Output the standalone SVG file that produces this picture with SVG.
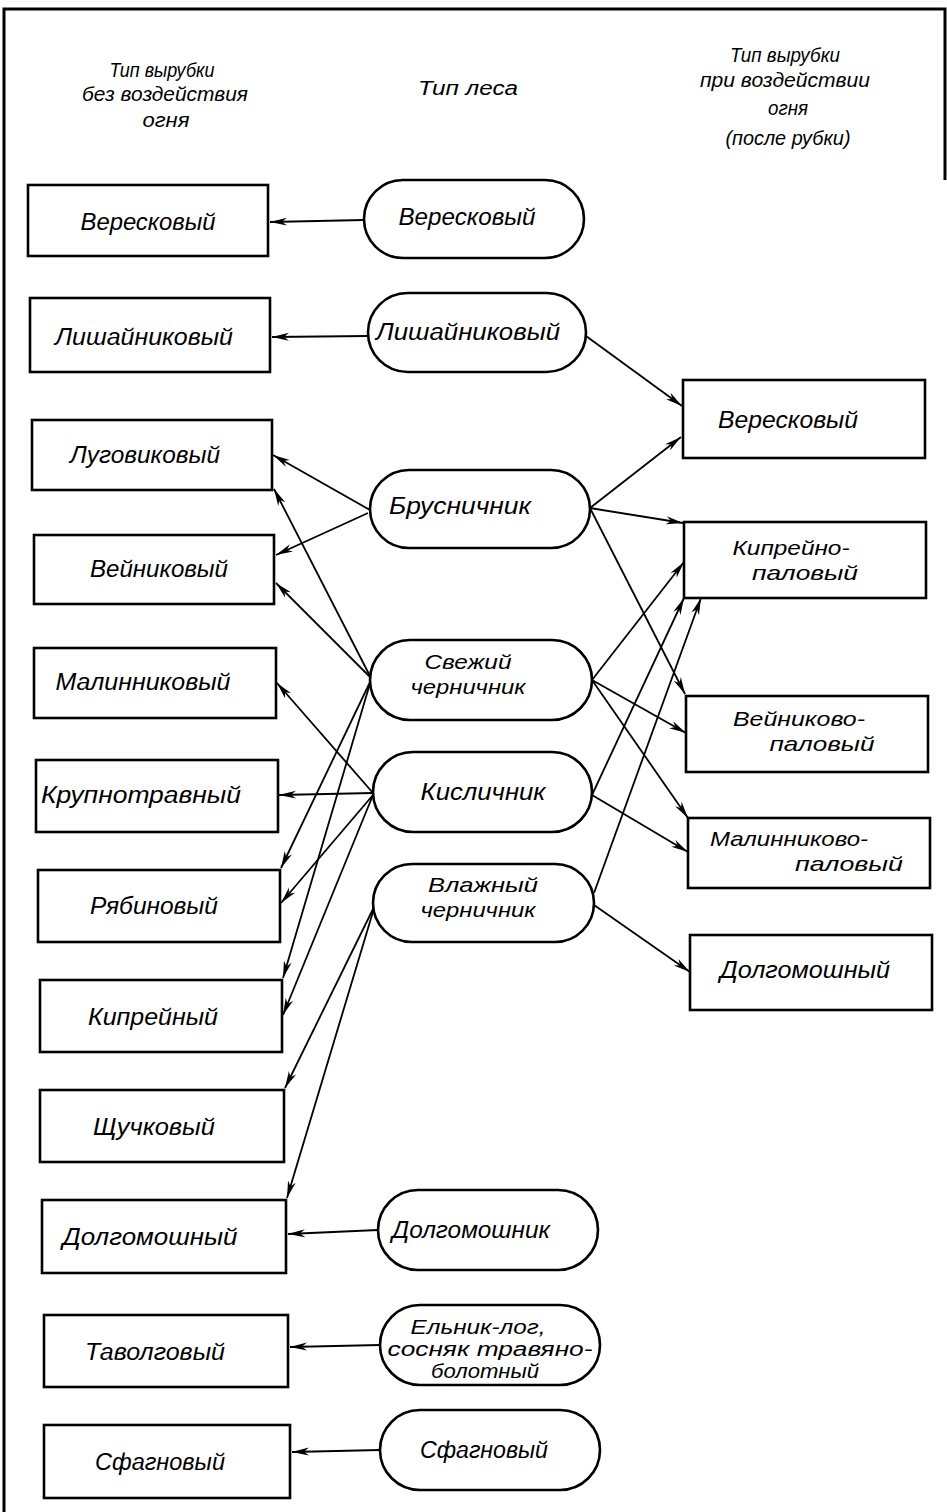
<svg xmlns="http://www.w3.org/2000/svg" width="947" height="1512" viewBox="0 0 947 1512">
<style>
.box{fill:#fff;stroke:#000;stroke-width:2.6}
.t{font-family:"Liberation Sans","DejaVu Sans",sans-serif;font-style:italic;font-size:23px;text-anchor:middle;fill:#000}
.s{font-family:"Liberation Sans","DejaVu Sans",sans-serif;font-style:italic;font-size:21px;text-anchor:middle;fill:#000}
.h{font-family:"Liberation Sans","DejaVu Sans",sans-serif;font-style:italic;font-size:20px;text-anchor:middle;fill:#000}
.c line{stroke:#000;stroke-width:1.8;marker-end:url(#a)}
</style>
<defs>
<marker id="a" markerUnits="userSpaceOnUse" markerWidth="18" markerHeight="10" refX="17" refY="5" orient="auto">
<path d="M0,1 L17,5 L0,9 L5,5 Z" fill="#000"/>
</marker>
</defs>
<rect x="0" y="0" width="947" height="1512" fill="#fff"/>
<path d="M4,1512 V9 H945 V180" fill="none" stroke="#000" stroke-width="3"/>

<g id="headers">
<text class="h" x="162" y="77" textLength="105" lengthAdjust="spacingAndGlyphs">Тип вырубки</text>
<text class="h" x="165" y="101" textLength="166" lengthAdjust="spacingAndGlyphs">без воздействия</text>
<text class="h" x="166" y="127" textLength="47" lengthAdjust="spacingAndGlyphs">огня</text>
<text class="h" x="468" y="95" textLength="100" lengthAdjust="spacingAndGlyphs">Тип леса</text>
<text class="h" x="785" y="62" textLength="110" lengthAdjust="spacingAndGlyphs">Тип вырубки</text>
<text class="h" x="785" y="87" textLength="170" lengthAdjust="spacingAndGlyphs">при воздействии</text>
<text class="h" x="788" y="115" textLength="40" lengthAdjust="spacingAndGlyphs">огня</text>
<text class="h" x="788" y="145" textLength="125" lengthAdjust="spacingAndGlyphs">(после рубки)</text>
</g>

<g class="c" id="connectors">
<line x1="364" y1="220" x2="270" y2="222"/>
<line x1="368" y1="336" x2="272" y2="337"/>
<line x1="586" y1="336" x2="682" y2="406"/>
<line x1="370" y1="510" x2="273" y2="455"/>
<line x1="368" y1="513" x2="276" y2="555"/>
<line x1="590" y1="508" x2="681" y2="437"/>
<line x1="590" y1="508" x2="683" y2="523"/>
<line x1="590" y1="508" x2="685" y2="694"/>
<line x1="371" y1="678" x2="274" y2="489"/>
<line x1="371" y1="678" x2="276" y2="583"/>
<line x1="371" y1="680" x2="281" y2="868"/>
<line x1="371" y1="680" x2="283" y2="978"/>
<line x1="373" y1="793" x2="277" y2="683"/>
<line x1="373" y1="793" x2="279" y2="795"/>
<line x1="373" y1="795" x2="281" y2="903"/>
<line x1="373" y1="795" x2="283" y2="1015"/>
<line x1="375" y1="905" x2="285" y2="1088"/>
<line x1="375" y1="905" x2="287" y2="1198"/>
<line x1="592" y1="680" x2="684" y2="562"/>
<line x1="592" y1="680" x2="686" y2="733"/>
<line x1="592" y1="680" x2="688" y2="818"/>
<line x1="592" y1="795" x2="684" y2="598"/>
<line x1="592" y1="795" x2="688" y2="852"/>
<line x1="594" y1="893" x2="701" y2="598"/>
<line x1="594" y1="905" x2="690" y2="972"/>
<line x1="378" y1="1230" x2="288" y2="1234"/>
<line x1="380" y1="1345" x2="290" y2="1347"/>
<line x1="380" y1="1450" x2="292" y2="1452"/>
</g>

<g id="L1"><rect class="box" x="28" y="185" width="240" height="71"/><text class="t" x="148" y="230" textLength="135" lengthAdjust="spacingAndGlyphs">Вересковый</text></g>
<g id="L2"><rect class="box" x="30" y="298" width="240" height="74"/><text class="t" x="144" y="345" textLength="178" lengthAdjust="spacingAndGlyphs">Лишайниковый</text></g>
<g id="L3"><rect class="box" x="32" y="420" width="240" height="70"/><text class="t" x="145" y="463" textLength="150" lengthAdjust="spacingAndGlyphs">Луговиковый</text></g>
<g id="L4"><rect class="box" x="34" y="535" width="240" height="69"/><text class="t" x="159" y="577" textLength="138" lengthAdjust="spacingAndGlyphs">Вейниковый</text></g>
<g id="L5"><rect class="box" x="34" y="648" width="242" height="70"/><text class="t" x="143" y="690" textLength="175" lengthAdjust="spacingAndGlyphs">Малинниковый</text></g>
<g id="L6"><rect class="box" x="36" y="760" width="242" height="72"/><text class="t" x="141" y="803" textLength="200" lengthAdjust="spacingAndGlyphs">Крупнотравный</text></g>
<g id="L7"><rect class="box" x="38" y="870" width="242" height="72"/><text class="t" x="154" y="914" textLength="128" lengthAdjust="spacingAndGlyphs">Рябиновый</text></g>
<g id="L8"><rect class="box" x="40" y="980" width="242" height="72"/><text class="t" x="153" y="1025" textLength="130" lengthAdjust="spacingAndGlyphs">Кипрейный</text></g>
<g id="L9"><rect class="box" x="40" y="1090" width="244" height="72"/><text class="t" x="154" y="1135" textLength="122" lengthAdjust="spacingAndGlyphs">Щучковый</text></g>
<g id="L10"><rect class="box" x="42" y="1200" width="244" height="73"/><text class="t" x="150" y="1245" textLength="175" lengthAdjust="spacingAndGlyphs">Долгомошный</text></g>
<g id="L11"><rect class="box" x="44" y="1315" width="244" height="72"/><text class="t" x="155" y="1360" textLength="140" lengthAdjust="spacingAndGlyphs">Таволговый</text></g>
<g id="L12"><rect class="box" x="44" y="1425" width="246" height="73"/><text class="t" x="160" y="1470" textLength="130" lengthAdjust="spacingAndGlyphs">Сфагновый</text></g>

<g id="M1"><rect class="box" x="364" y="180" width="220" height="78" rx="39"/><text class="t" x="467" y="225" textLength="137" lengthAdjust="spacingAndGlyphs">Вересковый</text></g>
<g id="M2"><rect class="box" x="368" y="293" width="218" height="79" rx="39.5"/><text class="t" x="468" y="340" textLength="184" lengthAdjust="spacingAndGlyphs">Лишайниковый</text></g>
<g id="M3"><rect class="box" x="370" y="470" width="220" height="78" rx="39"/><text class="t" x="460" y="514" textLength="142" lengthAdjust="spacingAndGlyphs">Брусничник</text></g>
<g id="M4"><rect class="box" x="370" y="640" width="222" height="80" rx="40"/><text class="s" x="468" y="669" textLength="87" lengthAdjust="spacingAndGlyphs">Свежий</text><text class="s" x="468" y="694" textLength="115" lengthAdjust="spacingAndGlyphs">черничник</text></g>
<g id="M5"><rect class="box" x="373" y="752" width="219" height="80" rx="40"/><text class="t" x="483" y="800" textLength="125" lengthAdjust="spacingAndGlyphs">Кисличник</text></g>
<g id="M6"><rect class="box" x="373" y="864" width="221" height="78" rx="39"/><text class="s" x="483" y="892" textLength="110" lengthAdjust="spacingAndGlyphs">Влажный</text><text class="s" x="478" y="917" textLength="115" lengthAdjust="spacingAndGlyphs">черничник</text></g>
<g id="M7"><rect class="box" x="378" y="1190" width="220" height="80" rx="40"/><text class="t" x="471" y="1238" textLength="158" lengthAdjust="spacingAndGlyphs">Долгомошник</text></g>
<g id="M8"><rect class="box" x="380" y="1305" width="220" height="80" rx="40"/><text class="h" x="478" y="1334" textLength="135" lengthAdjust="spacingAndGlyphs">Ельник-лог,</text><text class="h" x="490" y="1356" textLength="205" lengthAdjust="spacingAndGlyphs">сосняк травяно-</text><text class="h" x="485" y="1378" textLength="108" lengthAdjust="spacingAndGlyphs">болотный</text></g>
<g id="M9"><rect class="box" x="380" y="1410" width="220" height="80" rx="40"/><text class="t" x="484" y="1458" textLength="128" lengthAdjust="spacingAndGlyphs">Сфагновый</text></g>

<g id="R1"><rect class="box" x="683" y="380" width="242" height="78"/><text class="t" x="788" y="428" textLength="140" lengthAdjust="spacingAndGlyphs">Вересковый</text></g>
<g id="R2"><rect class="box" x="684" y="522" width="242" height="76"/><text class="s" x="791" y="555" textLength="117" lengthAdjust="spacingAndGlyphs">Кипрейно-</text><text class="s" x="805" y="580" textLength="106" lengthAdjust="spacingAndGlyphs">паловый</text></g>
<g id="R3"><rect class="box" x="686" y="696" width="242" height="76"/><text class="s" x="799" y="726" textLength="132" lengthAdjust="spacingAndGlyphs">Вейниково-</text><text class="s" x="822" y="751" textLength="105" lengthAdjust="spacingAndGlyphs">паловый</text></g>
<g id="R4"><rect class="box" x="688" y="818" width="242" height="70"/><text class="s" x="789" y="846" textLength="158" lengthAdjust="spacingAndGlyphs">Малинниково-</text><text class="s" x="849" y="871" textLength="108" lengthAdjust="spacingAndGlyphs">паловый</text></g>
<g id="R5"><rect class="box" x="690" y="935" width="242" height="75"/><text class="t" x="805" y="978" textLength="170" lengthAdjust="spacingAndGlyphs">Долгомошный</text></g>
</svg>
